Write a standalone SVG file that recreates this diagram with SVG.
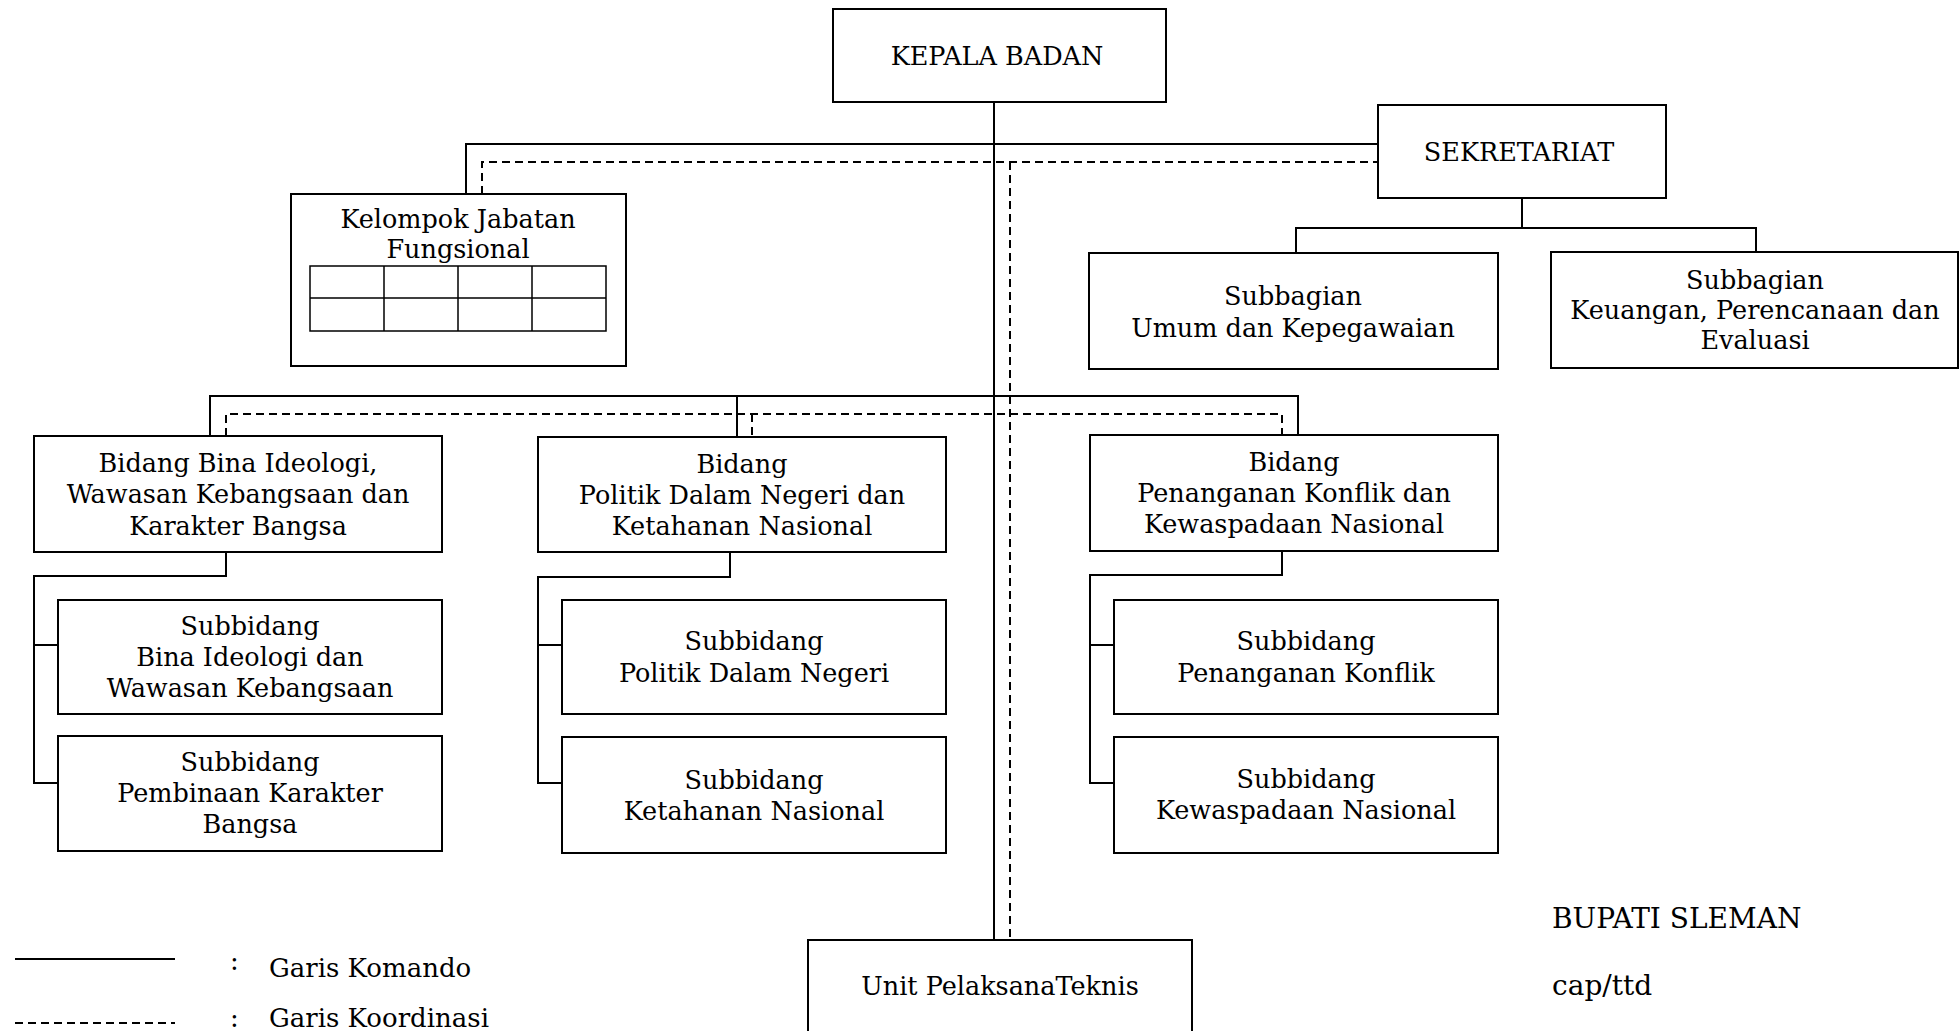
<svg xmlns="http://www.w3.org/2000/svg" width="1960" height="1031" viewBox="0 0 1960 1031">
<style>
.box{fill:#fff;stroke:#000;stroke-width:2}
.grid{fill:none;stroke:#000;stroke-width:1.5}
.cmd{fill:none;stroke:#000;stroke-width:2}
.crd{fill:none;stroke:#000;stroke-width:2;stroke-dasharray:8,5}
text{font-family:"DejaVu Serif","Liberation Serif",serif;font-size:25.5px;fill:#000}
.c{text-anchor:middle}
.lg{font-size:26px}
.sg{font-size:28px}
</style>
<rect width="1960" height="1031" fill="#fff"/>
<g id="connectors">
<path class="cmd" d="M994 102V940M466 194V144H1378M210 436V396H1298V435M737 396V437"/>
<path class="crd" d="M482 194V162H1378M1010 162V940M226 436V414H1282V435M752 414V437"/>
<path class="cmd" d="M1522 198V228M1296 253V228H1756V252"/>
<path class="cmd" d="M226 552V576H34V783H58M34 645H58"/>
<path class="cmd" d="M730 552V577H538V783H562M538 645H562"/>
<path class="cmd" d="M1282 551V575H1090V783H1114M1090 645H1114"/>
</g>
<g id="kepala"><rect class="box" x="833" y="9" width="333" height="93"/><text class="c" x="997" y="65">KEPALA BADAN</text></g>
<g id="sekretariat"><rect class="box" x="1378" y="105" width="288" height="93"/><text class="c" x="1519" y="161">SEKRETARIAT</text></g>
<g id="jabfung"><rect class="box" x="291" y="194" width="335" height="172"/>
<text class="c" x="458" y="228">Kelompok Jabatan</text><text class="c" x="458" y="258">Fungsional</text>
<path class="grid" d="M310 266H606V331H310ZM310 298H606M384 266V331M458 266V331M532 266V331"/></g>
<g id="sub-umum"><rect class="box" x="1089" y="253" width="409" height="116"/>
<text class="c" x="1293" y="305">Subbagian</text><text class="c" x="1293" y="337">Umum dan Kepegawaian</text></g>
<g id="sub-keuangan"><rect class="box" x="1551" y="252" width="407" height="116"/>
<text class="c" x="1755" y="289">Subbagian</text><text class="c" x="1755" y="319">Keuangan, Perencanaan dan</text><text class="c" x="1755" y="349">Evaluasi</text></g>
<g id="bidang-1"><rect class="box" x="34" y="436" width="408" height="116"/>
<text class="c" x="238" y="472">Bidang Bina Ideologi,</text><text class="c" x="238" y="503">Wawasan Kebangsaan dan</text><text class="c" x="238" y="535">Karakter Bangsa</text></g>
<g id="bidang-2"><rect class="box" x="538" y="437" width="408" height="115"/>
<text class="c" x="742" y="473">Bidang</text><text class="c" x="742" y="504">Politik Dalam Negeri dan</text><text class="c" x="742" y="535">Ketahanan Nasional</text></g>
<g id="bidang-3"><rect class="box" x="1090" y="435" width="408" height="116"/>
<text class="c" x="1294" y="471">Bidang</text><text class="c" x="1294" y="502">Penanganan Konflik dan</text><text class="c" x="1294" y="533">Kewaspadaan Nasional</text></g>
<g id="subbidang-1a"><rect class="box" x="58" y="600" width="384" height="114"/>
<text class="c" x="250" y="635">Subbidang</text><text class="c" x="250" y="666">Bina Ideologi dan</text><text class="c" x="250" y="697">Wawasan Kebangsaan</text></g>
<g id="subbidang-1b"><rect class="box" x="58" y="736" width="384" height="115"/>
<text class="c" x="250" y="771">Subbidang</text><text class="c" x="250" y="802">Pembinaan Karakter</text><text class="c" x="250" y="833">Bangsa</text></g>
<g id="subbidang-2a"><rect class="box" x="562" y="600" width="384" height="114"/>
<text class="c" x="754" y="650">Subbidang</text><text class="c" x="754" y="682">Politik Dalam Negeri</text></g>
<g id="subbidang-2b"><rect class="box" x="562" y="737" width="384" height="116"/>
<text class="c" x="754" y="789">Subbidang</text><text class="c" x="754" y="820">Ketahanan Nasional</text></g>
<g id="subbidang-3a"><rect class="box" x="1114" y="600" width="384" height="114"/>
<text class="c" x="1306" y="650">Subbidang</text><text class="c" x="1306" y="682">Penanganan Konflik</text></g>
<g id="subbidang-3b"><rect class="box" x="1114" y="737" width="384" height="116"/>
<text class="c" x="1306" y="788">Subbidang</text><text class="c" x="1306" y="819">Kewaspadaan Nasional</text></g>
<g id="upt"><rect class="box" x="808" y="940" width="384" height="110"/><text class="c" x="1000" y="995">Unit PelaksanaTeknis</text></g>
<g id="legend">
<path class="cmd" d="M15 959H175"/><path class="crd" d="M15 1023H175"/>
<text class="lg" x="230" y="970">:</text><text class="lg" x="269" y="977">Garis Komando</text>
<text class="lg" x="230" y="1027">:</text><text class="lg" x="269" y="1027">Garis Koordinasi</text>
</g>
<g id="signature"><text class="sg" x="1552" y="928">BUPATI SLEMAN</text><text class="sg" x="1552" y="995">cap/ttd</text></g>
</svg>
